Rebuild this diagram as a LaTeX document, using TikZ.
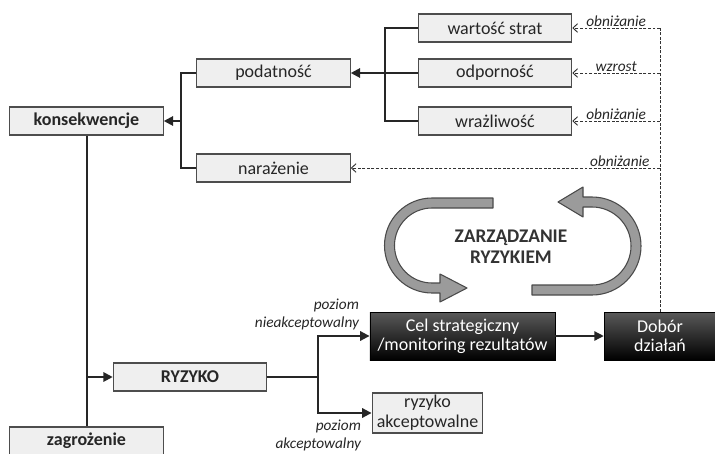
\documentclass[tikz,border=0pt]{standalone}
\usepackage{fontspec}
\setmainfont{Carlito}
\usepackage{tikz}
\usetikzlibrary{arrows.meta,positioning,calc}
\definecolor{boxfill}{HTML}{EFEFEF}
\definecolor{boxline}{HTML}{4D4D4D}
\definecolor{loopfill}{HTML}{9B9B9B}
\definecolor{loopline}{HTML}{4A4A4A}

\begin{document}
\begin{tikzpicture}[x=0.75pt,y=-0.75pt,
  box/.style={draw=boxline,fill=boxfill,line width=0.9pt,minimum width=115pt,minimum height=21pt,inner sep=0pt,font=\fontsize{13.5}{15}\selectfont,text=black!85},
  keybox/.style={box,font=\fontsize{13.5}{15}\selectfont\bfseries},
  darkbox/.style={draw=black,top color=black!65,bottom color=black,text=white,minimum height=36pt,inner sep=0pt,align=center,font=\fontsize{13.5}{14}\selectfont},
  link/.style={line width=1.5pt,draw=black!85},
  tri/.style={-{Triangle[length=7pt,width=7pt]}},
  cut/.style={line width=0.7pt,dash pattern=on 2.2pt off 1.2pt,draw=black!80,-{Straight Barb[length=3.5pt,width=6.5pt]}},
  lbl/.style={font=\fontsize{11.5}{13.5}\selectfont\itshape,text=black!85,inner sep=1pt},
  loopshape/.style={fill=loopfill,draw=loopline,line width=0.8pt,line join=round}]
  \useasboundingbox (0,0) rectangle (715,454);
  \clip (0,0) rectangle (715,454);
  % Level: consequences
  \node[keybox] (konsek) at (86.5,121) {konsekwencje};
  \node[box] (podatn) at (273.5,73) {podatność};
  \node[box] (narazen) at (273.5,168) {narażenie};
  \node[box] (wartosc) at (495,28) {wartość strat};
  \node[box] (odporn) at (495,73) {odporność};
  \node[box] (wrazl) at (495,121) {wrażliwość};
  % Level: risk
  \node[keybox] (ryzyko) at (190,377) {RYZYKO};
  \node[keybox] (zagroz) at (86.5,441) {zagrożenie};
  \node[darkbox,minimum width=139pt] (cel) at (462.5,336) {Cel strategiczny\\/monitoring rezultatów};
  \node[darkbox,minimum width=84pt] (dobor) at (660,336) {Dobór\\działań};
  \node[box,minimum width=83pt,minimum height=30pt,align=center,font=\fontsize{13.5}{15}\selectfont] (akcept) at (427.5,413) {ryzyko\\akceptowalne};
  % tree links
  \coordinate (kjoin) at ($(konsek.east)+(17,0)$);
  \draw[link] (podatn.west) -| (kjoin) |- (narazen.west);
  \draw[link,tri] (kjoin) -- (konsek.east);
  \coordinate (pjoin) at ($(podatn.east)+(34,0)$);
  \draw[link] (wartosc.west) -| (pjoin) |- (wrazl.west);
  \draw[link,tri] (odporn.west) -- (podatn.east);
  \draw[link] (konsek.south) -- (zagroz.north);
  \coordinate (rjoin) at (konsek.south |- ryzyko.west);
  \draw[link,tri] (rjoin) -- (ryzyko.west);
  \coordinate (split) at ($(ryzyko.east)+(51,0)$);
  \draw[link] (ryzyko.east) -- (split);
  \draw[link,tri] (split) |- (cel.west);
  \draw[link,tri] (split) |- (akcept.west);
  \draw[link,line width=1pt,tri] (cel.east) -- (dobor.west);
  \node[lbl,align=right,anchor=south east] at ($(cel.west)+(-9,-4)$) {poziom\\nieakceptowalny};
  \node[lbl,align=right,anchor=north east] at ($(akcept.west)+(-9,5)$) {poziom\\akceptowalny};
  % measures
  \coordinate (mtop) at (dobor.north |- wartosc.east);
  \draw[cut,-] (dobor.north) -- (mtop);
  \draw[cut] (mtop) -- (wartosc.east) node[lbl,midway,above] {obniżanie};
  \draw[cut] (odporn.east -| mtop) -- (odporn.east) node[lbl,midway,above] {wzrost};
  \draw[cut] (wrazl.east -| mtop) -- (wrazl.east) node[lbl,midway,above] {obniżanie};
  \draw[cut] (narazen.east -| mtop) -- (narazen.east) node[lbl,pos=0.13,above] {obniżanie};
  % management loop
  \draw[loopshape] (493,198) -- (432,198) arc[start angle=90,end angle=270,radius=35.625pt]
    -- (440,293) -- (440,302) -- (467,288) -- (440,274) -- (440,283) -- (432,283)
    arc[start angle=270,end angle=90,radius=28.125pt] -- (493,208) -- cycle;
  \draw[loopshape] (532,295) -- (592,295) arc[start angle=-90,end angle=90,radius=36.75pt]
    -- (583,197) -- (583,187) -- (558,202) -- (583,217) -- (583,207) -- (592,207)
    arc[start angle=90,end angle=-90,radius=29.25pt] -- (532,285) -- cycle;
  \node[font=\fontsize{14.5}{16}\selectfont\bfseries,align=center,text=black!80] (zarz) at (511,247) {ZARZĄDZANIE\\RYZYKIEM};
\end{tikzpicture}
\end{document}
